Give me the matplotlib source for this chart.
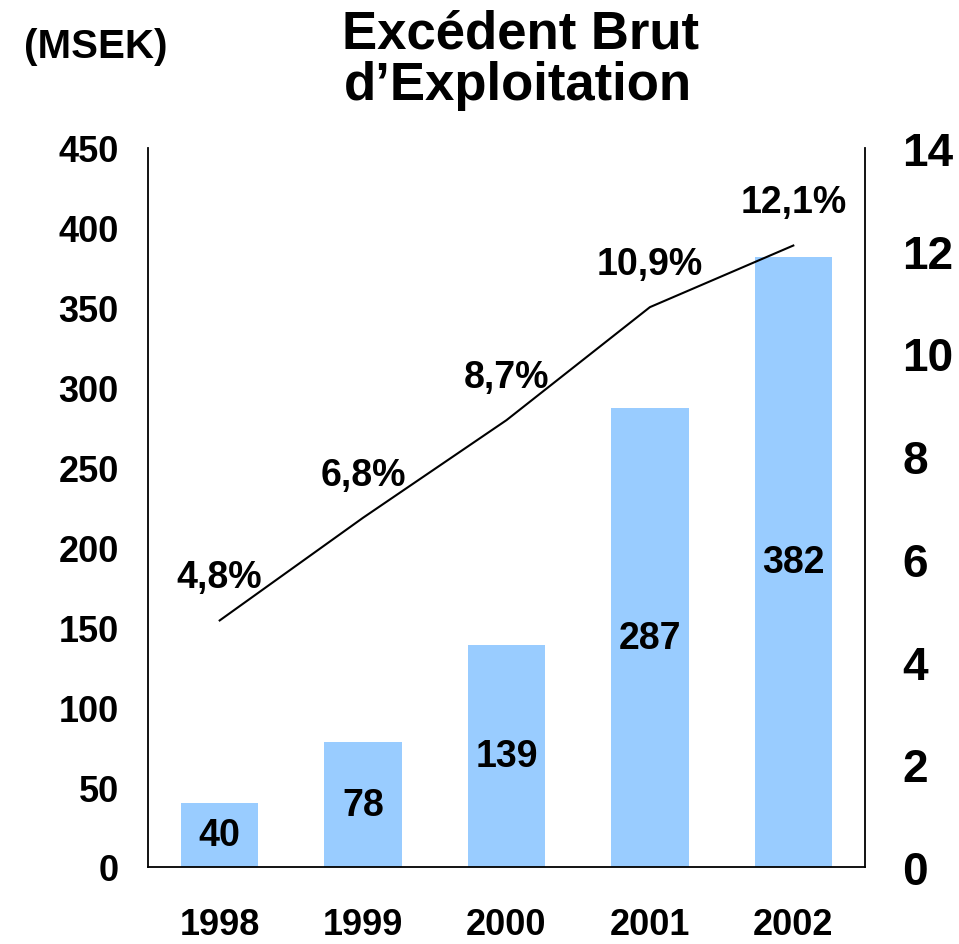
import numpy as np
import matplotlib.pyplot as plt

plt.rcParams['font.family'] = ['Liberation Sans', 'DejaVu Sans']
plt.rcParams['font.weight'] = 'bold'

years = ["1998", "1999", "2000", "2001", "2002"]
ebe = [40, 78, 139, 287, 382]          # MSEK
marge = [4.8, 6.8, 8.7, 10.9, 12.1]    # %
marge_txt = ["4,8%", "6,8%", "8,7%", "10,9%", "12,1%"]

fig = plt.figure(figsize=(9.59, 9.45), dpi=100)
ax = fig.add_axes([0.1543, 0.0815, 0.7477, 0.7609])
x = np.arange(len(years))

ax.bar(x, ebe, width=0.54, color="#99CCFF")
for xi, v in zip(x, ebe):
    ax.text(xi, v / 2, str(v), ha="center", va="center", fontsize=27, fontweight="bold")

ax.set_xlim(-0.5, 4.5)
ax.set_ylim(0, 450)
ax.set_yticks(range(0, 451, 50))
ax.set_xticks(x)
ax.set_xticklabels(years, fontsize=26, fontweight="bold")
ax.tick_params(axis="y", labelsize=26, length=0, pad=21)
ax.tick_params(axis="x", length=0, pad=29)
for s in ["left", "bottom", "right"]:
    ax.spines[s].set_linewidth(1.3)
ax.spines["top"].set_visible(False)

ax2 = ax.twinx()
ax2.plot(x, marge, color="black", linewidth=1.5)
for xi, v, t in zip(x, marge, marge_txt):
    ax2.annotate(t, (xi, v), xytext=(0, 31), textcoords="offset points",
                 ha="center", va="center", fontsize=27, fontweight="bold")
ax2.set_ylim(0, 14)
ax2.set_yticks(range(0, 15, 2))
ax2.tick_params(axis="y", labelsize=33, length=0, pad=27)
for s in ["left", "bottom", "right", "top"]:
    ax2.spines[s].set_visible(False)
ax.spines["right"].set_visible(True)

fig.text(0.543, 0.949, "Excédent Brut", ha="center", va="baseline", fontsize=38, fontweight="bold")
fig.text(0.540, 0.894, "d\u2019Exploitation", ha="center", va="baseline", fontsize=38, fontweight="bold")
fig.text(0.100, 0.9386, "(MSEK)", ha="center", va="baseline", fontsize=29, fontweight="bold")

fig.savefig("out.png", dpi=100)
